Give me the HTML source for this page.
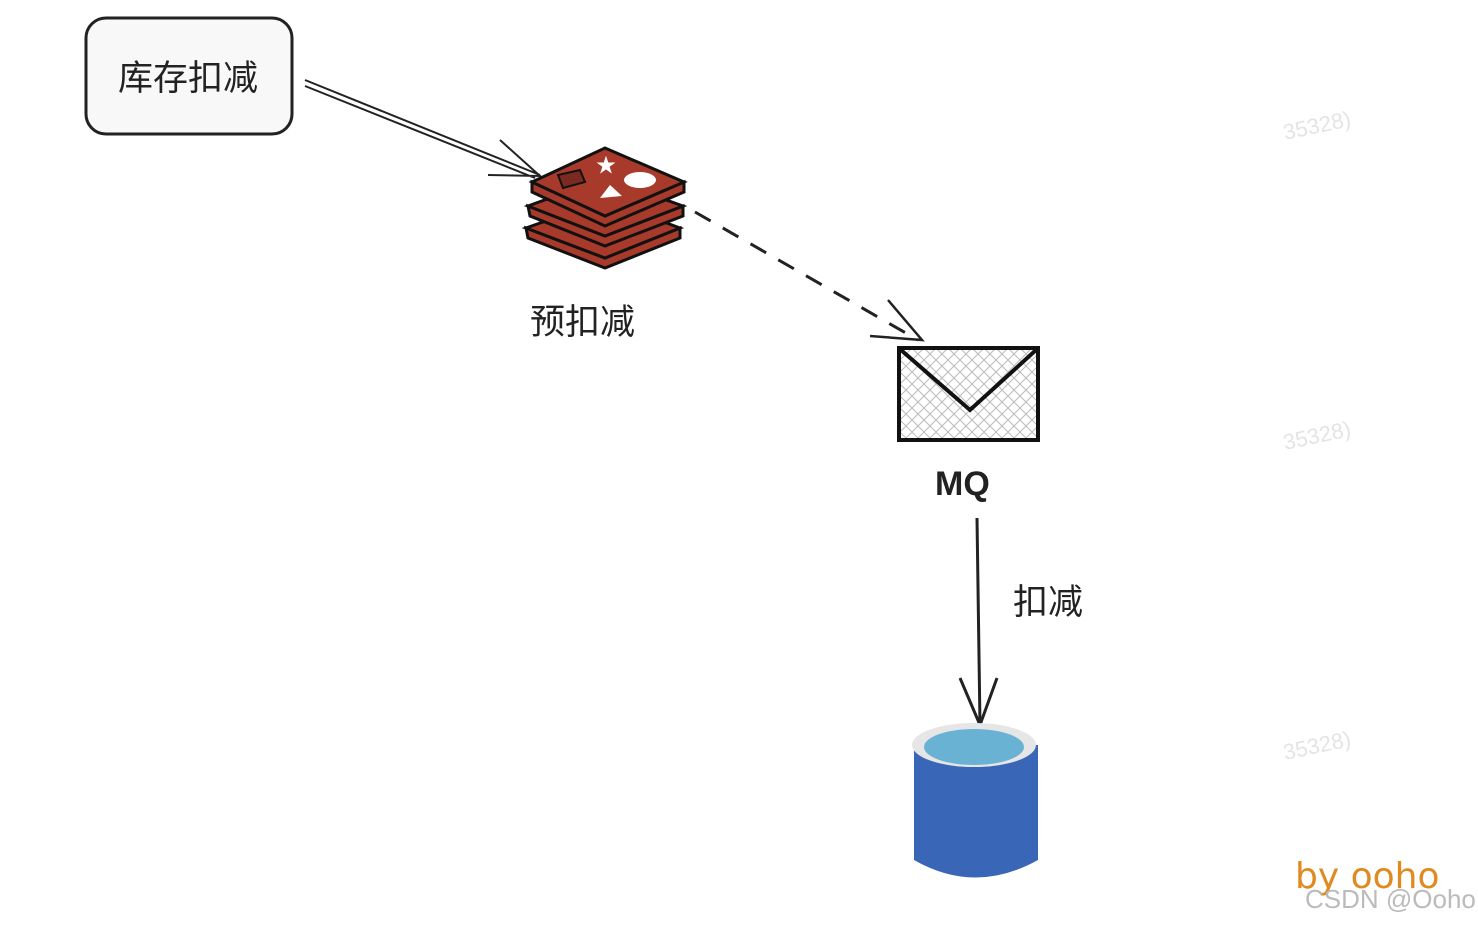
<!DOCTYPE html>
<html><head><meta charset="utf-8"><style>
body{margin:0;width:1478px;height:926px;background:#fff;overflow:hidden;position:relative;font-family:"Liberation Sans","Noto Sans CJK SC",sans-serif}
.t{position:absolute;color:#222;white-space:nowrap}
</style></head><body>
<svg width="1478" height="926" style="position:absolute;left:0;top:0">
<rect x="86" y="18" width="206" height="116" rx="20" fill="#f8f8f8" stroke="#222" stroke-width="3"/>
<path d="M305 80 L540 175 M305 86 L535 178 M500 140 L540 176 L488 175" fill="none" stroke="#222" stroke-width="2"/>
<g stroke="#111" stroke-width="3" fill="#a83a2c">
<path d="M526 228 L528 238 L605 268 L680 238 L680 228 L605 258 Z"/>
<path d="M526 228 L605 200 L680 228 L605 258 Z"/>
<path d="M528 206 L530 216 L605 246 L683 216 L683 206 L605 236 Z"/>
<path d="M528 206 L605 178 L683 206 L605 236 Z"/>
<path d="M532 182 L532 192 L605 226 L684 192 L684 182 L605 216 Z"/>
<path d="M532 182 L605 148 L684 182 L605 216 Z"/>
</g>
<path d="M558 175 L580 170 L585 182 L563 188 Z" fill="#7a2a20" stroke="#111" stroke-width="2"/>
<ellipse cx="640" cy="180" rx="16" ry="8" fill="#fff"/>
<path d="M600 198 L610 185 L622 196 Z" fill="#fff"/>
<text x="596" y="172" fill="#fff" font-size="20">★</text>
<path d="M695 212 L918 340" stroke="#222" stroke-width="3" stroke-dasharray="18 14"/>
<path d="M888 300 L922 340 L870 336" fill="none" stroke="#222" stroke-width="2.5"/>
<defs><pattern id="h" width="12" height="12" patternUnits="userSpaceOnUse"><path d="M0 0L12 12M12 0L0 12" stroke="#bbb" stroke-width="1"/></pattern></defs>
<rect x="899" y="348" width="139" height="92" fill="url(#h)" stroke="#111" stroke-width="4"/>
<path d="M901 350 L970 410 L1036 350" fill="none" stroke="#111" stroke-width="4"/>
<path d="M977 518 L980 725" stroke="#222" stroke-width="3"/>
<path d="M960 678 L980 725 L997 678" fill="none" stroke="#222" stroke-width="3"/>
<path d="M914 745 L1038 745 L1038 860 Q975 895 914 860 Z" fill="#3a66b8"/>
<ellipse cx="974" cy="745" rx="62" ry="22" fill="#e6e6e6"/>
<ellipse cx="974" cy="747" rx="50" ry="18" fill="#6ab2d4"/>
<g fill="#e4e4e4" font-size="22" font-family="Liberation Sans"><text x="1285" y="140" transform="rotate(-12 1285 140)">35328)</text><text x="1285" y="450" transform="rotate(-12 1285 450)">35328)</text><text x="1285" y="760" transform="rotate(-12 1285 760)">35328)</text></g>
</svg>
<div class="t" style="left:118px;top:50px;font-size:35px">库存扣减</div>
<div class="t" style="left:530px;top:294px;font-size:35px">预扣减</div>
<div class="t" style="left:935px;top:465px;font-size:34px;font-weight:bold">MQ</div>
<div class="t" style="left:1013px;top:574px;font-size:35px">扣减</div>
<div class="t" style="left:1295px;top:856px;font-size:36px;color:#e08a20;font-family:'DejaVu Sans',sans-serif">by ooho</div>
<div class="t" style="left:1305px;top:884px;font-size:26px;color:#bbb">CSDN @Ooho</div>
</body></html>
